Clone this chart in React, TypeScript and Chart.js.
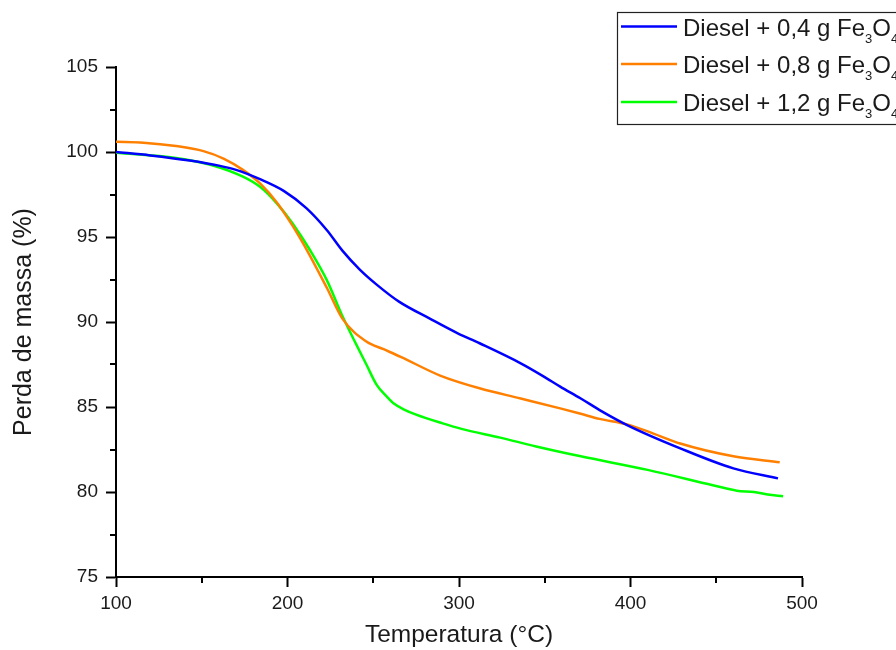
import { useEffect, useRef } from 'react';
import { Chart, registerables } from 'chart.js';

Chart.register(...registerables);

// Series labels and colours
const seriesNames = ['Diesel + 0,4 g Fe₃O₄', 'Diesel + 0,8 g Fe₃O₄', 'Diesel + 1,2 g Fe₃O₄'];
const seriesColors = ['#0000ff', '#ff8000', '#00ff00'];

// Diesel + 0,4 g Fe3O4
const temp04 = [100, 120, 143, 160, 170, 184, 198, 211, 223, 232, 242, 252, 265, 283, 299, 312, 336, 349, 359, 371, 382, 398, 429, 460, 486];
const mass04 = [100.0, 99.8, 99.5, 99.2, 98.95, 98.4, 97.7, 96.7, 95.4, 94.2, 93.1, 92.2, 91.2, 90.2, 89.35, 88.75, 87.57, 86.82, 86.2, 85.5, 84.82, 83.94, 82.57, 81.39, 80.8];

// Diesel + 0,8 g Fe3O4
const temp08 = [100, 116, 135, 151, 163, 174, 184, 194, 203, 212, 223, 232, 246, 256, 266, 289, 312, 336, 359, 371, 382, 398, 413, 429, 460, 487];
const mass08 = [100.6, 100.55, 100.35, 100.05, 99.6, 98.95, 98.15, 97.0, 95.65, 94.1, 92.0, 90.2, 88.85, 88.4, 87.95, 86.85, 86.1, 85.5, 84.92, 84.6, 84.3, 83.98, 83.45, 82.85, 82.1, 81.75];

// Diesel + 1,2 g Fe3O4
const temp12 = [100, 135, 155, 174, 184, 194, 203, 213, 223, 232, 240, 246, 252, 258, 262, 268, 275, 290, 302, 324, 345, 371, 410, 448, 462, 472, 480, 489];
const mass12 = [99.95, 99.65, 99.25, 98.55, 97.95, 96.95, 95.8, 94.25, 92.45, 90.35, 88.7, 87.5, 86.3, 85.6, 85.2, 84.85, 84.55, 84.05, 83.7, 83.2, 82.68, 82.1, 81.3, 80.4, 80.08, 80.0, 79.85, 79.75];

// Axis ranges and labelled ticks
const xLabelTicks = [100, 200, 300, 400, 500];
const yLabelTicks = [75, 80, 85, 90, 95, 100, 105];

const FONT = '"Liberation Sans", Arial, Helvetica, sans-serif';
const TEXT = '#1a1a1a';

const temps = [temp04, temp08, temp12];
const masses = [mass04, mass08, mass12];

// Draws text where unicode subscript digits are rendered as smaller, lowered digits
function drawRich(ctx: CanvasRenderingContext2D, text: string, x: number, y: number, size: number) {
  const subs = '₀₁₂₃₄₅₆₇₈₉';
  let cx = x;
  let run = '';
  let runSub = false;
  const flush = () => {
    if (!run) return;
    if (runSub) {
      ctx.font = `${Math.round(size * 0.54)}px ${FONT}`;
      ctx.fillText(run, cx, y + size * 0.3);
    } else {
      ctx.font = `${size}px ${FONT}`;
      ctx.fillText(run, cx, y);
    }
    cx += ctx.measureText(run).width;
    run = '';
  };
  for (const ch of text) {
    const i = subs.indexOf(ch);
    const isSub = i >= 0;
    if (isSub !== runSub) {
      flush();
      runSub = isSub;
    }
    run += isSub ? String(i) : ch;
  }
  flush();
}

const overlayPlugin = {
  id: 'overlay',
  afterDraw(chart: any) {
    const ctx: CanvasRenderingContext2D = chart.ctx;
    const xs = chart.scales.x;
    const ys = chart.scales.y;
    const area = chart.chartArea;
    ctx.save();

    // minor ticks
    ctx.strokeStyle = '#000';
    ctx.lineWidth = 2;
    for (const t of xs.ticks) {
      if (xLabelTicks.includes(t.value)) continue;
      const px = Math.round(xs.getPixelForValue(t.value));
      ctx.beginPath();
      ctx.moveTo(px, area.bottom);
      ctx.lineTo(px, area.bottom + 6);
      ctx.stroke();
    }
    for (const t of ys.ticks) {
      if (yLabelTicks.includes(t.value)) continue;
      const py = Math.round(ys.getPixelForValue(t.value));
      ctx.beginPath();
      ctx.moveTo(area.left, py);
      ctx.lineTo(area.left - 6, py);
      ctx.stroke();
    }

    // legend box
    const boxX = 617.5;
    const boxY = 12.5;
    ctx.fillStyle = '#fff';
    ctx.fillRect(boxX, boxY, 300, 112);
    ctx.lineWidth = 1.2;
    ctx.strokeStyle = '#222';
    ctx.strokeRect(boxX, boxY, 300, 112);

    const rows = [26.5, 64, 102];
    seriesNames.forEach((name, i) => {
      const ry = rows[i];
      ctx.strokeStyle = seriesColors[i];
      ctx.lineWidth = 2.5;
      ctx.beginPath();
      ctx.moveTo(621, ry);
      ctx.lineTo(677, ry);
      ctx.stroke();
      ctx.fillStyle = TEXT;
      ctx.textBaseline = 'alphabetic';
      ctx.textAlign = 'left';
      drawRich(ctx, name, 683, ry + 9, 24);
    });
    ctx.restore();
  },
};

export default function App() {
  const canvasRef = useRef<HTMLCanvasElement | null>(null);

  useEffect(() => {
    const canvas = canvasRef.current;
    if (!canvas) return;
    const chart = new Chart(canvas, {
      type: 'line',
      data: {
        datasets: seriesNames.map((name, i) => ({
          label: name,
          data: temps[i].map((t, j) => ({ x: t, y: masses[i][j] })),
          borderColor: seriesColors[i],
          backgroundColor: seriesColors[i],
          borderWidth: 2.5,
          pointRadius: 0,
          fill: false,
          cubicInterpolationMode: 'monotone' as const,
        })),
      },
      options: {
        responsive: false,
        animation: false,
        layout: { padding: { top: 67, right: 94, left: 0, bottom: 0 } },
        plugins: {
          legend: { display: false },
          tooltip: { enabled: false },
        },
        scales: {
          x: {
            type: 'linear',
            min: 100,
            max: 500,
            afterFit: (scale: any) => {
              scale.height = 73;
            },
            border: { display: true, color: '#000', width: 2 },
            grid: {
              drawOnChartArea: false,
              drawTicks: true,
              tickLength: 10,
              tickWidth: 2,
              tickColor: (c: any) => (c.tick && xLabelTicks.includes(c.tick.value) ? '#000' : 'rgba(0,0,0,0)'),
            },
            ticks: {
              stepSize: 50,
              autoSkip: false,
              maxRotation: 0,
              padding: 5,
              color: TEXT,
              font: { family: FONT, size: 19 },
              callback: (v: any) => (xLabelTicks.includes(Number(v)) ? String(v) : ''),
            },
            title: {
              display: true,
              text: 'Temperatura (°C)',
              color: TEXT,
              font: { family: FONT, size: 24.5 },
              padding: { top: 0, bottom: 0 },
            },
          },
          y: {
            type: 'linear',
            min: 75,
            max: 105,
            afterFit: (scale: any) => {
              scale.width = 116;
            },
            border: { display: true, color: '#000', width: 2 },
            grid: {
              drawOnChartArea: false,
              drawTicks: true,
              tickLength: 10,
              tickWidth: 2,
              tickColor: (c: any) => (c.tick && yLabelTicks.includes(c.tick.value) ? '#000' : 'rgba(0,0,0,0)'),
            },
            ticks: {
              stepSize: 2.5,
              autoSkip: false,
              padding: 8,
              color: TEXT,
              font: { family: FONT, size: 19 },
              callback: (v: any) => (yLabelTicks.includes(Number(v)) ? String(v) : ''),
            },
            title: {
              display: true,
              text: 'Perda de massa (%)',
              color: TEXT,
              font: { family: FONT, size: 25 },
              padding: { top: 9, bottom: 0 },
            },
          },
        },
      },
      plugins: [overlayPlugin],
    });
    return () => chart.destroy();
  }, []);

  return (
    <div style={{ position: 'absolute', left: 0, top: 0, width: 896, height: 650, background: '#fff' }}>
      <canvas ref={canvasRef} width={896} height={650} style={{ display: 'block' }} />
    </div>
  );
}
